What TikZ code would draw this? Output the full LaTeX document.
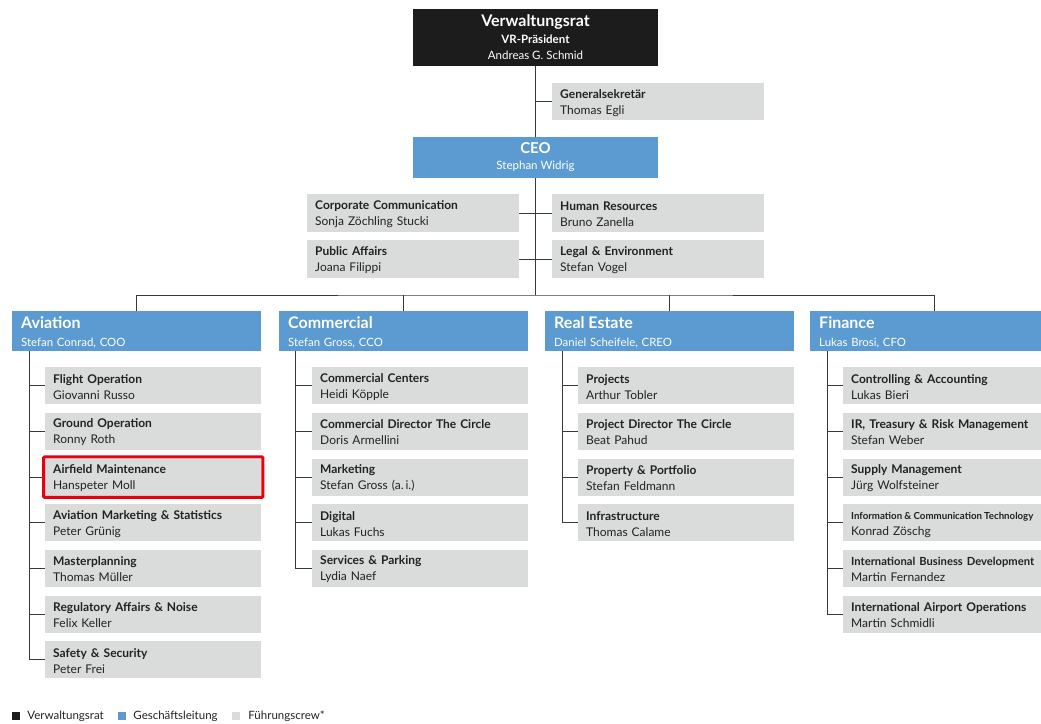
\documentclass[tikz,border=0pt]{standalone}
\usepackage{fontspec}
\setmainfont{Lato}
\usepackage{tikz}
\usetikzlibrary{positioning}
\usepackage{xcolor}
\definecolor{vrblack}{HTML}{1C1C1C}
\definecolor{glblue}{HTML}{5B9BD1}
\definecolor{crewgray}{HTML}{DADBDB}
\definecolor{linegray}{HTML}{3A3A3A}
\definecolor{textgray}{HTML}{222222}
\definecolor{markred}{HTML}{E8000F}
\tikzset{
font={\fontsize{11.5pt}{16pt}\selectfont},
link/.style={draw=linegray, line width=0.9pt},
topbox/.style={rectangle, inner sep=0pt, minimum width=245pt, align=center, text=white},
staffbox/.style={rectangle, anchor=north west, inner xsep=8pt, inner ysep=0pt,
  minimum height=38pt, text width=196pt, align=left, fill=crewgray, text=textgray,
  font={\fontsize{12pt}{16pt}\selectfont}},
divbox/.style={rectangle, anchor=north west, inner xsep=9pt, inner ysep=0pt,
  minimum height=40pt, text width=231pt, align=left, fill=glblue, text=white,
  font={\fontsize{11.4pt}{18pt}\selectfont}},
subbox/.style={staffbox, minimum height=37pt, text width=200pt},
keybox/.style={rectangle, inner sep=0pt, minimum size=8pt},
keytxt/.style={inner sep=0pt, anchor=west, text=textgray}}
\newcommand{\post}[2]{\rule{0pt}{11pt}\mbox{\bfseries #1}\\#2}
\newcommand{\divhead}[2]{\rule{0pt}{15pt}{\fontsize{16pt}{18pt}\selectfont\bfseries #1}\\#2}

\begin{document}
\begin{tikzpicture}[x=1pt, y=-1pt]
    % page frame
    \useasboundingbox (0,0) rectangle (1041,723);

    % Verwaltungsrat
    \node[topbox, fill=vrblack, minimum height=57pt] (vr) at (535.5,37.5)
      {{\fontsize{16pt}{18pt}\selectfont\bfseries Verwaltungsrat}\\[1pt]
       \textbf{VR-Präsident}\\Andreas G. Schmid};
    % Generalsekretaer
    \node[staffbox, minimum height=37pt] (gs) at (552,83) {\post{Generalsekretär}{Thomas Egli}};
    % CEO
    \node[topbox, fill=glblue, minimum height=41pt] (ceo) at (535.5,157.5)
      {{\fontsize{15pt}{18pt}\selectfont\bfseries CEO}\\Stephan Widrig};

    % staff units
    \node[staffbox] (cc) at (307,194) {\post{Corporate Communication}{Sonja Zöchling Stucki}};
    \node[staffbox] (hr) at (552,194) {\post{Human Resources}{Bruno Zanella}};
    \node[staffbox] (pa) at (307,240) {\post{Public Affairs}{Joana Filippi}};
    \node[staffbox] (le) at (552,240) {\post{Legal \& Environment}{Stefan Vogel}};

    % board line
    \draw[link] (vr.south) -- (ceo.north);
    \draw[link] (gs.west) -- (gs.west -| vr.south);
    \draw[link] (cc.east) -- (hr.west);
    \draw[link] (pa.east) -- (le.west);

    % divisions
    \coordinate (bus) at (535.5,295);
    \node[divbox] (av) at (12,311) {\divhead{Aviation}{Stefan Conrad, COO}};
    \node[divbox] (co) at (279,311) {\divhead{Commercial}{Stefan Gross, CCO}};
    \node[divbox] (re) at (545,311) {\divhead{Real Estate}{Daniel Scheifele, CREO}};
    \node[divbox] (fi) at (810,311) {\divhead{Finance}{Lukas Brosi, CFO}};

    % bus line
    \draw[link] (ceo.south) -- (bus);
    \draw[link] (av.north) |- (bus) -| (fi.north);
    \draw[link] (co.north) -- (co.north |- bus);
    \draw[link] (re.north) -- (re.north |- bus);

    % Aviation
    \node[subbox] (av1) at (45,367) {\post{Flight Operation}{Giovanni Russo}};
    \node[subbox] (av2) at (45,412.7) {\post{Ground Operation}{Ronny Roth}};
    \node[subbox] (av3) at (45,458.4) {\post{Airfield Maintenance}{Hanspeter Moll}};
    \node[subbox] (av4) at (45,504.1) {\post{Aviation Marketing \& Statistics}{Peter Grünig}};
    \node[subbox] (av5) at (45,549.8) {\post{Masterplanning}{Thomas Müller}};
    \node[subbox] (av6) at (45,595.5) {\post{Regulatory Affairs \& Noise}{Felix Keller}};
    \node[subbox] (av7) at (45,641.2) {\post{Safety \& Security}{Peter Frei}};
    \draw[link] ([xshift=17pt]av.south west) |- (av7.west);
    \draw[link] ([xshift=17pt]av.south west) |- (av1.west);
    \draw[link] ([xshift=17pt]av.south west) |- (av2.west);
    \draw[link] ([xshift=17pt]av.south west) |- (av3.west);
    \draw[link] ([xshift=17pt]av.south west) |- (av4.west);
    \draw[link] ([xshift=17pt]av.south west) |- (av5.west);
    \draw[link] ([xshift=17pt]av.south west) |- (av6.west);
    % highlight
    \draw[draw=markred, line width=3pt, rounded corners=1pt]
      ([shift={(-1.5,-1.5)}]av3.north west) rectangle ([shift={(1.5,1.5)}]av3.south east);

    % Commercial
    \node[subbox] (co1) at (312,367) {\post{Commercial Centers}{Heidi Köpple}};
    \node[subbox] (co2) at (312,412.7) {\post{Commercial Director The Circle}{Doris Armellini}};
    \node[subbox] (co3) at (312,458.4) {\post{Marketing}{Stefan Gross (a.\,i.)}};
    \node[subbox] (co4) at (312,504.1) {\post{Digital}{Lukas Fuchs}};
    \node[subbox] (co5) at (312,549.8) {\post{Services \& Parking}{Lydia Naef}};
    \draw[link] ([xshift=16pt]co.south west) |- (co5.west);
    \draw[link] ([xshift=16pt]co.south west) |- (co1.west);
    \draw[link] ([xshift=16pt]co.south west) |- (co2.west);
    \draw[link] ([xshift=16pt]co.south west) |- (co3.west);
    \draw[link] ([xshift=16pt]co.south west) |- (co4.west);

    % Real Estate
    \node[subbox] (re1) at (578,367) {\post{Projects}{Arthur Tobler}};
    \node[subbox] (re2) at (578,412.7) {\post{Project Director The Circle}{Beat Pahud}};
    \node[subbox] (re3) at (578,458.4) {\post{Property \& Portfolio}{Stefan Feldmann}};
    \node[subbox] (re4) at (578,504.1) {\post{Infrastructure}{Thomas Calame}};
    \draw[link] ([xshift=17pt]re.south west) |- (re4.west);
    \draw[link] ([xshift=17pt]re.south west) |- (re1.west);
    \draw[link] ([xshift=17pt]re.south west) |- (re2.west);
    \draw[link] ([xshift=17pt]re.south west) |- (re3.west);

    % Finance
    \node[subbox] (fi1) at (843,367) {\post{Controlling \& Accounting}{Lukas Bieri}};
    \node[subbox] (fi2) at (843,412.7) {\post{IR, Treasury \& Risk Management}{Stefan Weber}};
    \node[subbox] (fi3) at (843,458.4) {\post{Supply Management}{Jürg Wolfsteiner}};
    \node[subbox] (fi4) at (843,504.1)
      {\rule{0pt}{11pt}{\fontsize{9.7pt}{16pt}\selectfont\bfseries\spaceskip=2.2pt Information \& Communication Technology}\\Konrad Zöschg};
    \node[subbox] (fi5) at (843,549.8) {\post{{\fontsize{11.2pt}{16pt}\selectfont International Business Development}}{Martin Fernandez}};
    \node[subbox] (fi6) at (843,595.5) {\post{International Airport Operations}{Martin Schmidli}};
    \draw[link] ([xshift=17pt]fi.south west) |- (fi6.west);
    \draw[link] ([xshift=17pt]fi.south west) |- (fi1.west);
    \draw[link] ([xshift=17pt]fi.south west) |- (fi2.west);
    \draw[link] ([xshift=17pt]fi.south west) |- (fi3.west);
    \draw[link] ([xshift=17pt]fi.south west) |- (fi4.west);
    \draw[link] ([xshift=17pt]fi.south west) |- (fi5.west);

    % legend
    \node[keybox, fill=vrblack] (kvr) at (16,716) {};
    \node[keytxt, right=7pt of kvr] {Verwaltungsrat};
    \node[keybox, fill=glblue] (kgl) at (122,716) {};
    \node[keytxt, right=7pt of kgl] {Geschäftsleitung};
    \node[keybox, fill=crewgray] (kfc) at (236,716) {};
    \node[keytxt, right=8pt of kfc] {Führungscrew*};
\end{tikzpicture}
\end{document}
